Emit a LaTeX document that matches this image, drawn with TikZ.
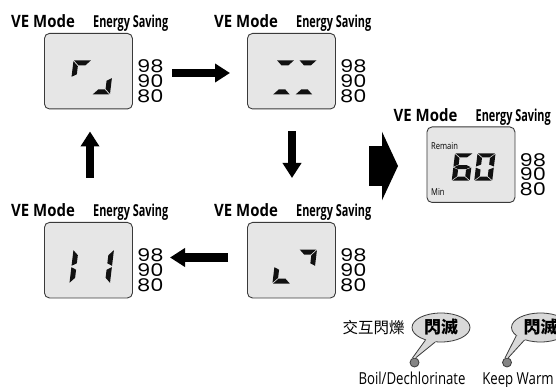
\documentclass[tikz,border=0pt]{standalone}
\usepackage{fontspec}
\usetikzlibrary{arrows.meta,calc,shapes.geometric}
\setmainfont{Open Sans}
\newfontfamily\numfont{Poppins}[FakeStretch=1.2]
\newfontfamily\vefont{Open Sans}[FakeStretch=0.88]
\newfontfamily\condfont{Open Sans}[FakeStretch=0.66]
\newfontfamily\labfont{Open Sans}[FakeStretch=0.8]
\newfontfamily\cjkfont{Noto Sans CJK TC}
\definecolor{boxfill}{HTML}{E6E6E6}
\definecolor{boxline}{HTML}{3A3A3A}
\definecolor{bubfill}{HTML}{D9D9D9}
\definecolor{dotfill}{HTML}{858585}
\definecolor{segcol}{HTML}{111111}
\tikzset{
  lcd/.style={draw=boxline, fill=boxfill, line width=0.9pt, rounded corners=5pt,
    minimum width=88pt, minimum height=75.5pt, inner sep=0pt, anchor=north west},
  vetext/.style={font=\vefont\fontsize{17}{18}\selectfont\bfseries, inner sep=0pt, anchor=base west},
  estext/.style={font=\condfont\fontsize{16.5}{18}\selectfont\bfseries, inner sep=0pt, anchor=base west},
  numtext/.style={font=\numfont\fontsize{17.5}{14.8}\selectfont, inner sep=0pt, anchor=north west,
    align=left},
  smalltext/.style={font=\labfont\fontsize{9.5}{10}\selectfont, inner sep=0pt, anchor=west},
  labtext/.style={font=\labfont\fontsize{16.5}{18}\selectfont, inner sep=0pt, anchor=base},
  blockarrow/.style={draw=black, line width=8.5pt, -{Triangle[width=18pt,length=15pt]}},
  bubble/.style={ellipse, draw=boxline, fill=bubfill, line width=0.8pt, minimum width=58pt,
    minimum height=29pt, inner sep=0pt},
  bubtext/.style={font=\cjkfont\bfseries\fontsize{17}{18}\selectfont, inner sep=0pt},
  dot/.style={circle, draw=boxline, fill=dotfill, line width=0.8pt, minimum size=9pt, inner sep=0pt},
}
% seven-segment pieces: W=18, H=34, t=5, gap 0.7
\newcommand\sgA{\fill (0.7,0) -- (17.3,0) -- (12.3,5) -- (5.7,5) -- cycle;}
\newcommand\sgB{\fill (18,0.7) -- (18,16.3) -- (13,13.8) -- (13,5.7) -- cycle;}
\newcommand\sgC{\fill (18,17.7) -- (18,33.3) -- (13,28.3) -- (13,20.2) -- cycle;}
\newcommand\sgD{\fill (0.7,34) -- (17.3,34) -- (12.3,29) -- (5.7,29) -- cycle;}
\newcommand\sgE{\fill (0,17.7) -- (0,33.3) -- (5,28.3) -- (5,20.2) -- cycle;}
\newcommand\sgF{\fill (0,0.7) -- (0,16.3) -- (5,13.8) -- (5,5.7) -- cycle;}
\newcommand\sgG{\fill (0.7,17) -- (5,14.5) -- (13,14.5) -- (17.3,17) -- (13,19.5) -- (5,19.5) -- cycle;}
\newcommand\sdigit[4][]{\begin{scope}[shift={(#2,#3)},xslant=0.12,#1,segcol]#4\end{scope}}
\newcommand\panel[3]{%
  \node[lcd] (#1) at (#2,#3) {};
  \node[vetext] (#1ve) at ($(#1.north west)+(-33,-5)$) {VE Mode};
  \node[estext] (#1es) at ($(#1.north west)+(49,-5)$) {Energy Saving};
  \node[numtext] (#1n) at ($(#1.north east)+(4,26.5)$) {98\\90\\80};
}
\begin{document}
\begin{tikzpicture}[x=1pt,y=-1pt]
\clip (0,0) rectangle (556,387);
\fill[white] (0,0) rectangle (556,387);
% panels
\panel{P1}{44}{33}
\panel{P2}{247}{33}
\panel{P3}{247}{222}
\panel{P4}{44}{222}
\panel{P5}{426.5}{126.5}
% segment fragments
\sdigit{73.5}{60.5}{\sgA\sgF}
\sdigit{96}{60.5}{\sgD\sgC}
\sdigit{276.5}{60.5}{\sgA\sgD}
\sdigit{299}{60.5}{\sgA\sgD}
\sdigit{276.5}{249.5}{\sgE\sgD}
\sdigit{299}{249.5}{\sgA\sgB}
\sdigit{73.5}{249.5}{\sgF\sgE}
\sdigit{96}{249.5}{\sgB\sgC}
% 60 display
\sdigit[yscale=0.8]{455}{153.5}{\sgA\sgF\sgG\sgE\sgD\sgC}
\sdigit[yscale=0.8]{477.5}{153.5}{\sgA\sgB\sgC\sgD\sgE\sgF}
\node[smalltext] (remain) at (431,146.5) {Remain};
\node[smalltext] (min) at (431,192) {Min};
% arrows
\coordinate (a1s) at (172,73);   \coordinate (a1e) at (230,73);
\coordinate (a2s) at (292,131.5); \coordinate (a2e) at (292,178);
\coordinate (a3s) at (228,257.5); \coordinate (a3e) at (170,257.5);
\coordinate (a4s) at (90,178);   \coordinate (a4e) at (90,131.5);
\coordinate (a5s) at (369,166);  \coordinate (a5e) at (398,166);
\draw[blockarrow] (a1s) -- (a1e);
\draw[blockarrow] (a2s) -- (a2e);
\draw[blockarrow] (a3s) -- (a3e);
\draw[blockarrow] (a4s) -- (a4e);
\draw[draw=black, line width=40pt, -{Triangle[width=68pt,length=16pt]}] (a5s) -- (a5e);
% bottom legend
\node[font=\cjkfont\fontsize{15.5}{17}\selectfont, inner sep=0pt] (alt) at (373.5,328) {交互閃爍};
\node[bubble] (bub1) at (441,327.5) {};
\node[bubble] (bub2) at (540.5,327.5) {};
\node[dot] (dot1) at (414.5,362.5) {};
\node[dot] (dot2) at (507,362.5) {};
\fill[bubfill] (bub1.219) -- (dot1.115) -- (dot1.75) -- (bub1.248) -- (bub1.center) -- cycle;
\draw[boxline, line width=0.8pt] (bub1.219) -- (dot1.115) (bub1.248) -- (dot1.75);
\fill[bubfill] (bub2.199) -- (dot2.115) -- (dot2.75) -- (bub2.218) -- (bub2.center) -- cycle;
\draw[boxline, line width=0.8pt] (bub2.199) -- (dot2.115) (bub2.218) -- (dot2.75);
\node[bubtext] (bub1t) at (bub1.center) {閃滅};
\node[bubtext] (bub2t) at (bub2.center) {閃滅};
\node[labtext] (boil) at (412,384) {Boil/Dechlorinate};
\node[labtext] (warm) at (518,384) {Keep Warm};
\end{tikzpicture}
\end{document}
